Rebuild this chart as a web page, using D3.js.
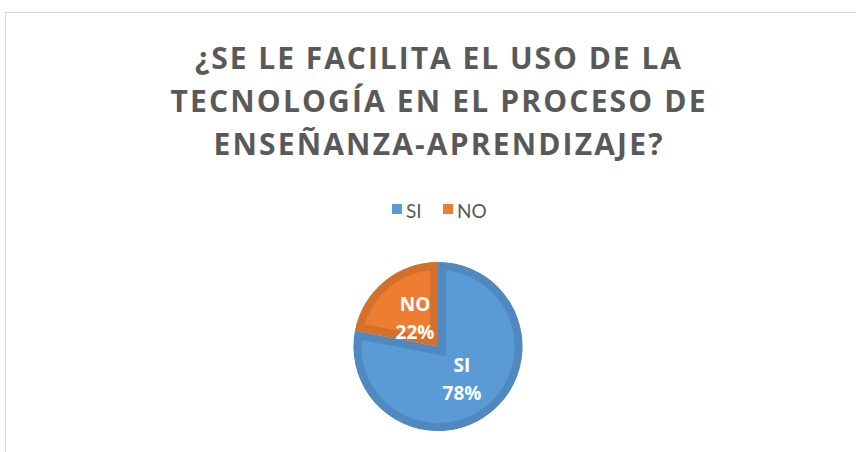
<!DOCTYPE html>
<html>
<head>
<meta charset="utf-8">
<script src="https://cdn.jsdelivr.net/npm/d3@7"></script>
<style>
  body { margin: 0; background: #fff; }
  svg { display: block; }
</style>
</head>
<body>
<script>
var categories = ["SI", "NO"];
var values = [78, 22];
var titleLines = ["¿SE LE FACILITA EL USO DE LA", "TECNOLOGÍA EN EL PROCESO DE", "ENSEÑANZA-APRENDIZAJE?"];

var width = 856, height = 452;
var fills = ["#5b9bd5", "#ed7d31"];
var edges = ["#5089c0", "#d4702b"];

var svg = d3.select("body").append("svg")
  .attr("width", width)
  .attr("height", height);

// chart frame (only top + left edges fall inside the window)
svg.append("rect")
  .attr("x", 5.5).attr("y", 12.5)
  .attr("width", 900).attr("height", 500)
  .attr("fill", "#fff")
  .attr("stroke", "#d9d9d9");

// title
var titleWidths = [486, 535, 449];
svg.append("g").selectAll("text")
  .data(titleLines)
  .join("text")
    .attr("x", 438)
    .attr("y", (d, i) => 68.5 + i * 43)
    .attr("text-anchor", "middle")
    .attr("textLength", (d, i) => titleWidths[i])
    .attr("lengthAdjust", "spacing")
    .style("font-family", "'Open Sans', sans-serif")
    .style("font-weight", "bold")
    .style("font-size", "30px")
    .style("fill", "#595959")
    .text(d => d);

// legend
var legend = svg.append("g").attr("transform", "translate(392,204)");
var legX = [0, 51];
var items = legend.selectAll("g")
  .data(categories)
  .join("g")
    .attr("transform", (d, i) => "translate(" + legX[i] + ",0)");
items.append("rect")
  .attr("width", 10).attr("height", 10)
  .attr("fill", (d, i) => fills[i]);
items.append("text")
  .attr("x", 14).attr("y", 14)
  .style("font-family", "Lato, sans-serif")
  .style("font-size", "19px")
  .style("fill", "#595959")
  .text(d => d);

// pie
var cx = 438, cy = 346.5, r = 84.5;
var pie = d3.pie().sort(null).value(d => d.v);
var arcs = pie(categories.map((c, i) => ({c: c, v: values[i], i: i})));
var arc = d3.arc().innerRadius(0).outerRadius(r);

var g = svg.append("g").attr("transform", "translate(" + cx + "," + cy + ")");
var defs = svg.append("defs");
arcs.forEach(function(a, i) {
  defs.append("clipPath").attr("id", "clip" + i)
    .append("path").attr("d", arc(a));
});
g.selectAll("path.slice")
  .data(arcs)
  .join("path")
    .attr("class", "slice")
    .attr("d", arc)
    .attr("fill", d => fills[d.data.i])
    .attr("stroke", d => edges[d.data.i])
    .attr("stroke-width", 16)
    .attr("clip-path", d => "url(#clip" + d.data.i + ")");

// data labels
var labelPos = [[24, 25.5], [-23, -35.5]];
var labels = g.selectAll("text.lbl")
  .data(arcs)
  .join("text")
    .attr("class", "lbl")
    .attr("text-anchor", "middle")
    .style("font-family", "'Open Sans', sans-serif")
    .style("font-weight", "bold")
    .style("font-size", "19px")
    .style("fill", "#fff");
labels.append("tspan")
  .attr("x", (d, i) => labelPos[i][0])
  .attr("y", (d, i) => labelPos[i][1])
  .text(d => d.data.c);
labels.append("tspan")
  .attr("x", (d, i) => labelPos[i][0])
  .attr("y", (d, i) => labelPos[i][1] + 27.5)
  .text(d => Math.round(d.data.v) + "%");
</script>
</body>
</html>
